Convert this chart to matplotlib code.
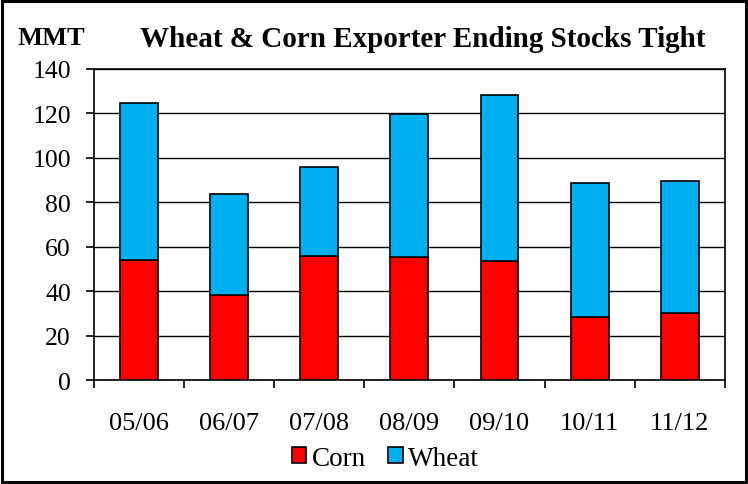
import matplotlib
matplotlib.use("Agg")
import matplotlib.pyplot as plt
from matplotlib.patches import Rectangle
import numpy as np

categories = ["05/06", "06/07", "07/08", "08/09", "09/10", "10/11", "11/12"]
corn = [54.2, 38.3, 56.0, 55.4, 53.6, 28.2, 30.3]
wheat = [70.4, 45.4, 39.9, 64.4, 74.7, 60.4, 59.4]
yticks = [0, 20, 40, 60, 80, 100, 120, 140]

plt.rcParams['font.family'] = ['Liberation Serif', 'DejaVu Serif']

fig = plt.figure(figsize=(7.48, 4.85), dpi=100)
ax = fig.add_axes([0.1257, 0.2144, 0.8433, 0.6415])

x = np.arange(len(categories))
w = 0.42
ax.bar(x, corn, width=w, color="#FF0000", edgecolor="black", linewidth=1.2, label="Corn", zorder=3)
ax.bar(x, wheat, bottom=corn, width=w, color="#00B0F0", edgecolor="black", linewidth=1.2, label="Wheat", zorder=3)

ax.set_xlim(-0.5, len(categories) - 0.5)
ax.set_ylim(0, 140)
ax.set_yticks(yticks)
ax.set_yticklabels([str(t) for t in yticks], fontsize=18.5)
ax.yaxis.grid(True, color="black", linewidth=1.0, zorder=0)
ax.set_axisbelow(True)

ax.set_xticks(np.arange(len(categories) + 1) - 0.5, minor=False)
ax.set_xticklabels([])
ax.set_xticks(x, minor=True)
ax.set_xticklabels(categories, minor=True, fontsize=19)
ax.tick_params(axis="x", which="major", length=6, width=1.2, direction="out")
ax.tick_params(axis="x", which="minor", length=0, pad=23)
ax.tick_params(axis="y", length=5.5, width=1.2, direction="out", pad=11)
for s in ax.spines.values():
    s.set_color("black")
    s.set_linewidth(1.2)

fig.text(0.024, 0.92, "MMT", fontsize=19, fontweight="bold", ha="left", va="center")
fig.text(0.565, 0.918, "Wheat & Corn Exporter Ending Stocks Tight", fontsize=21,
         fontweight="bold", ha="center", va="center")

leg = fig.legend(loc="center", bbox_to_anchor=(0.515, 0.053), ncol=2, frameon=False,
                 fontsize=19.5, handlelength=0.55, handleheight=0.55, handletextpad=0.2,
                 columnspacing=0.8, borderaxespad=0)

fig.patches.append(Rectangle((0.003, 0.004), 0.994, 0.992, transform=fig.transFigure,
                             fill=False, edgecolor="black", linewidth=2.2))

fig.savefig("out.png", dpi=100)
